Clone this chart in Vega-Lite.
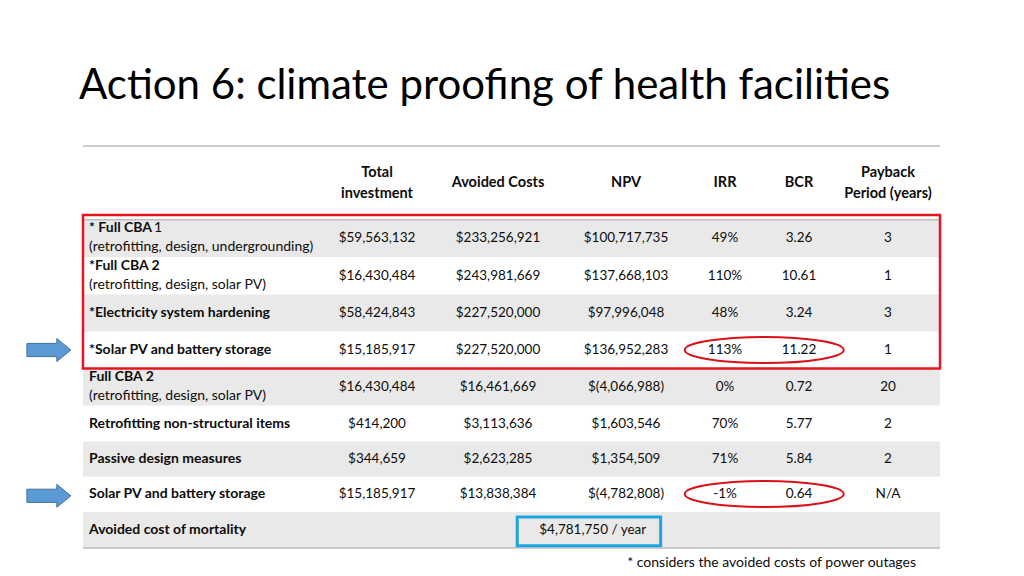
{
  "$schema": "https://vega.github.io/schema/vega-lite/v6.json",
  "width": 1024,
  "height": 576,
  "autosize": {"type": "fit", "contains": "padding"},
  "padding": 0,
  "background": "white",
  "config": {"view": {"stroke": null}, "font": "Lato", "text": {"color": "#0d0d0d"}},
  "datasets": {
    "bands": [
      {"c": 0, "c2": 7, "r": -0.5, "r2": 0.5},
      {"c": 0, "c2": 7, "r": 1.5, "r2": 2.5},
      {"c": 0, "c2": 7, "r": 3.5, "r2": 4.5},
      {"c": 0, "c2": 7, "r": 5.5, "r2": 6.5},
      {"c": 0, "c2": 7, "r": 7.5, "r2": 8.5}
    ],
    "lines": [
      {"c": 0, "c2": 7, "r": -2.5},
      {"c": 0, "c2": 7, "r": -0.5},
      {"c": 0, "c2": 7, "r": 8.5}
    ],
    "title": [{"c": 0, "r": -5, "text": "Action 6: climate proofing of health facilities"}],
    "footnote": [{"c": 7, "r": 9.5, "text": "* considers the avoided costs of power outages"}],
    "headers2": [
      {"c": 1, "r": -1.5, "text": "Total\ninvestment"},
      {"c": 6, "r": -1.5, "text": "Payback\nPeriod (years)"}
    ],
    "headers1": [
      {"c": 2, "r": -1.5, "text": "Avoided Costs"},
      {"c": 3, "r": -1.5, "text": "NPV"},
      {"c": 4, "r": -1.5, "text": "IRR"},
      {"c": 5, "r": -1.5, "text": "BCR"}
    ],
    "labels": [
      {"c": 0, "r": 0, "name": "* Full CBA", "suffix": "1", "sub": "(retrofitting, design, undergrounding)"},
      {"c": 0, "r": 1, "name": "*Full CBA 2", "sub": "(retrofitting, design, solar PV)"},
      {"c": 0, "r": 2, "name": "*Electricity system hardening"},
      {"c": 0, "r": 3, "name": "*Solar PV and battery storage"},
      {"c": 0, "r": 4, "name": "Full CBA 2", "sub": "(retrofitting, design, solar PV)"},
      {"c": 0, "r": 5, "name": "Retrofitting non-structural items"},
      {"c": 0, "r": 6, "name": "Passive design measures"},
      {"c": 0, "r": 7, "name": "Solar PV and battery storage"},
      {"c": 0, "r": 8, "name": "Avoided cost of mortality"}
    ],
    "cells": [
      {"r": 0, "c": 1, "v": "$59,563,132"}, {"r": 0, "c": 2, "v": "$233,256,921"}, {"r": 0, "c": 3, "v": "$100,717,735"}, {"r": 0, "c": 4, "v": "49%"}, {"r": 0, "c": 5, "v": "3.26"}, {"r": 0, "c": 6, "v": "3"},
      {"r": 1, "c": 1, "v": "$16,430,484"}, {"r": 1, "c": 2, "v": "$243,981,669"}, {"r": 1, "c": 3, "v": "$137,668,103"}, {"r": 1, "c": 4, "v": "110%"}, {"r": 1, "c": 5, "v": "10.61"}, {"r": 1, "c": 6, "v": "1"},
      {"r": 2, "c": 1, "v": "$58,424,843"}, {"r": 2, "c": 2, "v": "$227,520,000"}, {"r": 2, "c": 3, "v": "$97,996,048"}, {"r": 2, "c": 4, "v": "48%"}, {"r": 2, "c": 5, "v": "3.24"}, {"r": 2, "c": 6, "v": "3"},
      {"r": 3, "c": 1, "v": "$15,185,917"}, {"r": 3, "c": 2, "v": "$227,520,000"}, {"r": 3, "c": 3, "v": "$136,952,283"}, {"r": 3, "c": 4, "v": "113%"}, {"r": 3, "c": 5, "v": "11.22"}, {"r": 3, "c": 6, "v": "1"},
      {"r": 4, "c": 1, "v": "$16,430,484"}, {"r": 4, "c": 2, "v": "$16,461,669"}, {"r": 4, "c": 3, "v": "$(4,066,988)"}, {"r": 4, "c": 4, "v": "0%"}, {"r": 4, "c": 5, "v": "0.72"}, {"r": 4, "c": 6, "v": "20"},
      {"r": 5, "c": 1, "v": "$414,200"}, {"r": 5, "c": 2, "v": "$3,113,636"}, {"r": 5, "c": 3, "v": "$1,603,546"}, {"r": 5, "c": 4, "v": "70%"}, {"r": 5, "c": 5, "v": "5.77"}, {"r": 5, "c": 6, "v": "2"},
      {"r": 6, "c": 1, "v": "$344,659"}, {"r": 6, "c": 2, "v": "$2,623,285"}, {"r": 6, "c": 3, "v": "$1,354,509"}, {"r": 6, "c": 4, "v": "71%"}, {"r": 6, "c": 5, "v": "5.84"}, {"r": 6, "c": 6, "v": "2"},
      {"r": 7, "c": 1, "v": "$15,185,917"}, {"r": 7, "c": 2, "v": "$13,838,384"}, {"r": 7, "c": 3, "v": "$(4,782,808)"}, {"r": 7, "c": 4, "v": "-1%"}, {"r": 7, "c": 5, "v": "0.64"}, {"r": 7, "c": 6, "v": "N/A"},
      {"r": 8, "c": 2.74, "v": "$4,781,750 / year"}
    ],
    "redbox": [{"c": 0, "c2": 7, "r": -0.63, "r2": 3.5}],
    "bluebox": [{"c": 2.15, "c2": 3.35, "r": 7.64, "r2": 8.44}],
    "ellipses": [{"c": 4.53, "r": 3}, {"c": 4.53, "r": 7}],
    "arrows": [{"c": -0.116, "r": 3}, {"c": -0.116, "r": 7.05}]
  },
  "encoding": {
    "x": {"field": "c", "type": "quantitative", "axis": null,
      "scale": {"domain": [0, 1, 2, 3, 4, 5, 6, 7], "range": [83, 377, 498, 626, 725, 799, 888, 940], "zero": false, "nice": false}},
    "y": {"field": "r", "type": "quantitative", "axis": null,
      "scale": {"domain": [-5, -2.5, -1.5, 0, 1, 2, 3, 4, 5, 6, 7, 8, 8.5, 9.5], "range": [99, 146, 183, 238, 276, 313, 350, 387, 424, 459, 494, 530, 548, 563], "zero": false, "nice": false}}
  },
  "layer": [
    {"data": {"name": "bands"}, "mark": {"type": "rect", "fill": "#e9e9e9"},
     "encoding": {"x2": {"field": "c2"}, "y2": {"field": "r2"}}},
    {"data": {"name": "lines"}, "mark": {"type": "rule", "stroke": "#bdbdbd", "strokeWidth": 1.5},
     "encoding": {"x2": {"field": "c2"}}},
    {"data": {"name": "title"}, "mark": {"type": "text", "align": "left", "baseline": "alphabetic", "dx": -4, "fontSize": 42, "color": "#000000"},
     "encoding": {"text": {"field": "text"}}},
    {"data": {"name": "headers2"},
     "mark": {"type": "text", "align": "center", "baseline": "middle", "dy": -10, "fontSize": 14.5, "fontWeight": "bold", "lineBreak": "\n", "lineHeight": 21},
     "encoding": {"text": {"field": "text"}}},
    {"data": {"name": "headers1"},
     "mark": {"type": "text", "align": "center", "baseline": "middle", "fontSize": 14.5, "fontWeight": "bold"},
     "encoding": {"text": {"field": "text"}}},
    {"data": {"name": "labels"}, "transform": [{"filter": "datum.sub"}],
     "mark": {"type": "text", "align": "left", "baseline": "middle", "dx": 6, "dy": -10, "fontSize": 14, "fontWeight": "bold"},
     "encoding": {"text": {"field": "name"}}},
    {"data": {"name": "labels"}, "transform": [{"filter": "!datum.sub"}],
     "mark": {"type": "text", "align": "left", "baseline": "middle", "dx": 6, "fontSize": 14, "fontWeight": "bold"},
     "encoding": {"text": {"field": "name"}}},
    {"data": {"name": "labels"}, "transform": [{"filter": "datum.sub"}],
     "mark": {"type": "text", "align": "left", "baseline": "middle", "dx": 6, "dy": 9, "fontSize": 14},
     "encoding": {"text": {"field": "sub"}}},
    {"data": {"name": "labels"}, "transform": [{"filter": "datum.suffix"}],
     "mark": {"type": "text", "align": "left", "baseline": "middle", "dx": 71, "dy": -10, "fontSize": 14},
     "encoding": {"text": {"field": "suffix"}}},
    {"data": {"name": "cells"}, "mark": {"type": "text", "align": "center", "baseline": "middle", "fontSize": 13.5},
     "encoding": {"text": {"field": "v"}}},
    {"data": {"name": "footnote"}, "mark": {"type": "text", "align": "right", "baseline": "middle", "dx": -24, "fontSize": 14},
     "encoding": {"text": {"field": "text"}}},
    {"data": {"name": "redbox"}, "mark": {"type": "rect", "fillOpacity": 0, "stroke": "#e8141b", "strokeWidth": 2.5},
     "encoding": {"x2": {"field": "c2"}, "y2": {"field": "r2"}}},
    {"data": {"name": "bluebox"}, "mark": {"type": "rect", "fillOpacity": 0, "stroke": "#1ba6e0", "strokeWidth": 3},
     "encoding": {"x2": {"field": "c2"}, "y2": {"field": "r2"}}},
    {"data": {"name": "ellipses"}, "mark": {"type": "point", "filled": false, "stroke": "#d9121a", "strokeWidth": 2, "opacity": 1,
      "shape": "M-1,0A1,0.164,0,1,0,1,0A1,0.164,0,1,0,-1,0Z", "size": 25300}},
    {"data": {"name": "arrows"}, "mark": {"type": "point", "filled": true, "fill": "#5b9bd5", "stroke": "#41719c", "strokeWidth": 1, "opacity": 1,
      "shape": "M-1,-0.3L0.36,-0.3L0.36,-0.52L1,0L0.36,0.52L0.36,0.3L-1,0.3Z", "size": 1936}}
  ]
}
